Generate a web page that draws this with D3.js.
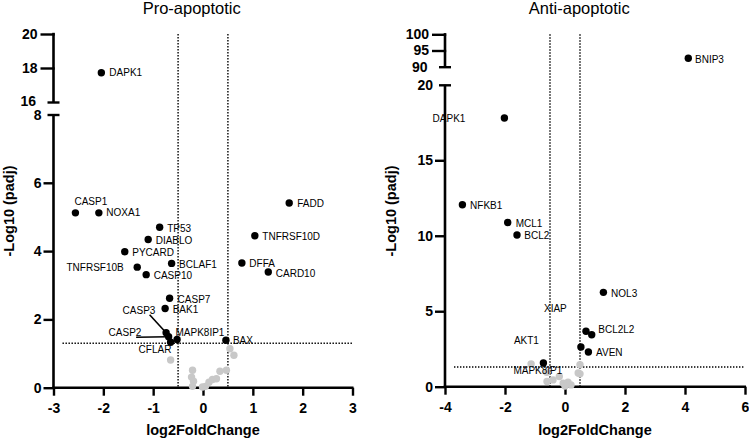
<!DOCTYPE html>
<html>
<head>
<meta charset="utf-8">
<script src="https://cdn.jsdelivr.net/npm/d3@7"></script>
<style>
  html, body { margin: 0; padding: 0; background: #fff; }
  svg { display: block; font-family: "Liberation Sans", Arial, Helvetica, sans-serif; }
</style>
</head>
<body>
<svg id="chart" width="749" height="441"></svg>
<script>
// ---------------- DATA ----------------
const fcCutoff = 0.5;
const padjLine = -Math.log10(0.05);

// Pro-apoptotic: significant genes
const proGenes = ["DAPK1","CASP1","NOXA1","TP53","DIABLO","PYCARD","TNFRSF10B","BCLAF1","CASP10",
                  "FADD","TNFRSF10D","DFFA","CARD10","CASP7","BAK1","CASP3","CASP2","CFLAR","MAPK8IP1","BAX"];
const proLog2FC = [-2.04,-2.56,-2.09,-0.87,-1.10,-1.57,-1.32,-0.63,-1.14,
                   1.73,1.04,0.78,1.31,-0.67,-0.76,-0.74,-0.69,-0.65,-0.52,0.46];
const proNegLogPadj = [17.72,5.12,5.12,4.70,4.34,3.98,3.53,3.64,3.31,
                       5.41,4.45,3.65,3.39,2.62,2.32,1.61,1.49,1.33,1.41,1.39];
// Pro-apoptotic: non-significant genes
const proNsLog2FC = [-0.65,0.54,0.62,-0.21,-0.23,-0.19,-0.21,-0.01,0.05,0.12,0.19,0.27,0.34,0.47];
const proNsNegLogPadj = [0.81,1.14,0.95,0.51,0.31,0.19,0.04,0.02,0.04,0.16,0.24,0.26,0.48,0.51];

// Anti-apoptotic: significant genes
const antiGenes = ["BNIP3","DAPK1","NFKB1","MCL1","BCL2","NOL3","XIAP","BCL2L2","AKT1","AVEN","MAPK8IP1"];
const antiLog2FC = [4.11,-2.02,-3.42,-1.91,-1.60,1.28,0.70,0.89,0.53,0.78,-0.72];
const antiNegLogPadj = [92.6,17.8,12.05,10.88,10.05,6.25,3.67,3.44,2.63,2.30,1.57];
// Anti-apoptotic: non-significant genes
const antiNsLog2FC = [-1.13,0.50,0.44,-0.61,-0.60,-0.19,-0.06,0.10,0.00,0.20,0.50,-0.40];
const antiNsNegLogPadj = [1.50,1.46,0.91,0.95,0.35,0.68,0.24,0.30,0.05,0.12,0.85,0.45];

// Tick labels
const proXTicks = [-3,-2,-1,0,1,2,3];
const proYTicksLow = [0,2,4,6,8];
const proYTicksHigh = [16,18,20];
const antiXTicks = [-4,-2,0,2,4,6];
const antiYTicksLow = [0,5,10,15,20];
const antiYTicksHigh = [90,95,100];

// ---------------- LAYOUT (label placement offsets, px) ----------------
const proLabelLayout = {
  DAPK1:{dx:8,dy:0}, CASP1:{dx:-1,dy:-11}, NOXA1:{dx:7.5,dy:0}, TP53:{dx:7.5,dy:1},
  DIABLO:{dx:7.5,dy:1}, PYCARD:{dx:7.5,dy:1}, TNFRSF10B:{dx:-13.5,dy:0,anchor:"end"},
  BCLAF1:{dx:7.5,dy:1}, CASP10:{dx:7.5,dy:1}, FADD:{dx:8,dy:1}, TNFRSF10D:{dx:7.5,dy:1},
  DFFA:{dx:7.5,dy:0}, CARD10:{dx:7.5,dy:1.5}, CASP7:{dx:8,dy:1}, BAK1:{dx:7.5,dy:1},
  CASP3:{dx:-43.5,dy:-22,leader:[-16.5,-18]}, CASP2:{dx:-60,dy:-4.6,leader:[-32.5,0.4]},
  CFLAR:{dx:-32,dy:7.3}, MAPK8IP1:{dx:-1.6,dy:-7.3}, BAX:{dx:7,dy:0}
};
const antiLabelLayout = {
  BNIP3:{dx:6.7,dy:1}, DAPK1:{dx:-39,dy:0,anchor:"end"}, NFKB1:{dx:7.7,dy:1},
  MCL1:{dx:8,dy:1}, BCL2:{dx:7.3,dy:1}, NOL3:{dx:7.7,dy:1}, XIAP:{dx:-42,dy:-22.4},
  BCL2L2:{dx:6.6,dy:-5}, AKT1:{dx:-67,dy:-6.3}, AVEN:{dx:7.7,dy:1}, MAPK8IP1:{dx:-30,dy:7.7}
};

// ---------------- DRAW ----------------
const svg = d3.select("#chart");
const intFmt = d3.format("d");

function drawPanel(p) {
  const g = svg.append("g");
  const x = d3.scaleLinear().domain(p.xDomain).range(p.xRange);
  const yLow = d3.scaleLinear().domain(p.yLowDomain).range(p.yLowRange);
  const yHigh = d3.scaleLinear().domain(p.yHighDomain).range(p.yHighRange);
  const y = v => v > p.yLowDomain[1] ? yHigh(v) : yLow(v);
  const x0 = p.xRange[0];
  const yBase = p.yLowRange[0];
  const axisW = 2.6;

  // title
  g.append("text").attr("x", p.titleX).attr("y", 13.5).attr("text-anchor", "middle")
    .attr("font-size", 16.5).attr("fill", "#000").text(p.title);

  // threshold lines (dotted)
  const dot = {stroke:"#000","stroke-width":1.4,"stroke-dasharray":"1.4 1.6"};
  [-fcCutoff, fcCutoff].forEach(v => {
    const l = g.append("line").attr("x1", x(v)).attr("x2", x(v))
      .attr("y1", yHigh(p.yHighDomain[1])).attr("y2", yBase);
    Object.entries(dot).forEach(([k,val]) => l.attr(k,val));
  });
  const hl = g.append("line").attr("x1", x0 + 9).attr("x2", p.xRange[1])
    .attr("y1", yLow(padjLine)).attr("y2", yLow(padjLine));
  Object.entries(dot).forEach(([k,val]) => hl.attr(k,val));

  // x axis
  const xa = g.append("g").attr("transform", `translate(0,${yBase})`)
    .call(d3.axisBottom(x).tickValues(p.xTicks).tickSize(8).tickPadding(7).tickSizeOuter(0).tickFormat(intFmt));
  xa.select(".domain").remove();
  xa.selectAll(".tick line").attr("stroke", "#000").attr("stroke-width", 2.4);
  xa.selectAll(".tick text").attr("font-size", 14).attr("font-weight", "bold").attr("fill", "#000")
    .text(d => d < 0 ? "-" + Math.abs(d) : d);
  g.append("line").attr("x1", x0 - axisW/2).attr("x2", p.xRange[1] + 1).attr("y1", yBase).attr("y2", yBase)
    .attr("stroke", "#000").attr("stroke-width", axisW);

  // y axis lower segment
  const yal = g.append("g").attr("transform", `translate(${x0},0)`)
    .call(d3.axisLeft(yLow).tickValues(p.yTicksLow).tickSize(10).tickPadding(2).tickSizeOuter(0).tickFormat(intFmt));
  yal.select(".domain").remove();
  yal.selectAll(".tick line").attr("stroke", "#000").attr("stroke-width", 2.4)
    .attr("x2", d => d === p.yLowDomain[1] ? 6 : 0)
    .attr("x1", d => d === p.yLowDomain[1] ? -6 : -10);
  yal.selectAll(".tick text").attr("font-size", 14).attr("font-weight", "bold").attr("fill", "#000")
    .attr("transform", d => d === p.yLowDomain[1] ? `translate(0,${p.capShift})` : null);
  g.append("line").attr("x1", x0).attr("x2", x0).attr("y1", yBase + axisW/2).attr("y2", yLow(p.yLowDomain[1]))
    .attr("stroke", "#000").attr("stroke-width", axisW);

  // y axis upper segment
  const yah = g.append("g").attr("transform", `translate(${x0},0)`)
    .call(d3.axisLeft(yHigh).tickValues(p.yTicksHigh).tickSize(13).tickPadding(3).tickSizeOuter(0).tickFormat(intFmt));
  yah.select(".domain").remove();
  yah.selectAll(".tick line").attr("stroke", "#000").attr("stroke-width", 2.4)
    .attr("x2", d => d === p.yHighDomain[0] ? 6 : 1.2)
    .attr("x1", d => d === p.yHighDomain[0] ? -6 : -13);
  yah.selectAll(".tick text").attr("font-size", 14).attr("font-weight", "bold").attr("fill", "#000")
    .attr("transform", d => d === p.yHighDomain[0] ? `translate(-1.5,${-p.capShift})` : null);
  g.append("line").attr("x1", x0).attr("x2", x0).attr("y1", yHigh(p.yHighDomain[0])).attr("y2", yHigh(p.yHighDomain[1]) - 1.2)
    .attr("stroke", "#000").attr("stroke-width", axisW);

  // axis titles
  g.append("text").attr("x", p.xTitleX).attr("y", 435).attr("text-anchor", "middle")
    .attr("font-size", 14.5).attr("font-weight", "bold").attr("fill", "#000").text("log2FoldChange");
  g.append("text").attr("transform", `translate(${p.yTitleX},211) rotate(-90)`).attr("text-anchor", "middle")
    .attr("font-size", 14.5).attr("font-weight", "bold").attr("fill", "#000").text("-Log10 (padj)");

  // non-significant points
  g.append("g").selectAll("circle").data(p.nsX.map((v,i) => [v, p.nsY[i]])).join("circle")
    .attr("cx", d => x(d[0])).attr("cy", d => y(d[1])).attr("r", 3.7).attr("fill", "#c8c8c8");

  // significant points
  const sig = p.genes.map((n,i) => ({name:n, fc:p.fc[i], py:p.py[i]}));
  sig.forEach(d => {
    const L = p.layout[d.name];
    if (L && L.leader) {
      g.append("line").attr("x1", x(d.fc) + L.leader[0]).attr("y1", y(d.py) + L.leader[1])
        .attr("x2", x(d.fc)).attr("y2", y(d.py)).attr("stroke", "#000").attr("stroke-width", 1.6);
    }
  });
  g.append("g").selectAll("circle").data(sig).join("circle")
    .attr("cx", d => x(d.fc)).attr("cy", d => y(d.py)).attr("r", 3.7).attr("fill", "#000");
  g.append("g").selectAll("text").data(sig).join("text")
    .attr("x", d => x(d.fc) + p.layout[d.name].dx)
    .attr("y", d => y(d.py) + p.layout[d.name].dy)
    .attr("dy", "0.35em")
    .attr("text-anchor", d => p.layout[d.name].anchor || "start")
    .attr("font-size", 10).attr("fill", "#000").text(d => d.name);
}

drawPanel({
  title:"Pro-apoptotic", titleX:191.7, xTitleX:203, yTitleX:13.5, capShift:1,
  xDomain:[-3,3], xRange:[53.5,352.5],
  yLowDomain:[0,8], yLowRange:[387.7,114.5],
  yHighDomain:[16,20], yHighRange:[102,34],
  xTicks:proXTicks, yTicksLow:proYTicksLow, yTicksHigh:proYTicksHigh,
  genes:proGenes, fc:proLog2FC, py:proNegLogPadj,
  nsX:proNsLog2FC, nsY:proNsNegLogPadj, layout:proLabelLayout
});
drawPanel({
  title:"Anti-apoptotic", titleX:579.3, xTitleX:595, yTitleX:396, capShift:0,
  xDomain:[-4,6], xRange:[445,745],
  yLowDomain:[0,20], yLowRange:[386.7,84.8],
  yHighDomain:[90,100], yHighRange:[66.7,34.3],
  xTicks:antiXTicks, yTicksLow:antiYTicksLow, yTicksHigh:antiYTicksHigh,
  genes:antiGenes, fc:antiLog2FC, py:antiNegLogPadj,
  nsX:antiNsLog2FC, nsY:antiNsNegLogPadj, layout:antiLabelLayout
});
</script>
</body>
</html>
